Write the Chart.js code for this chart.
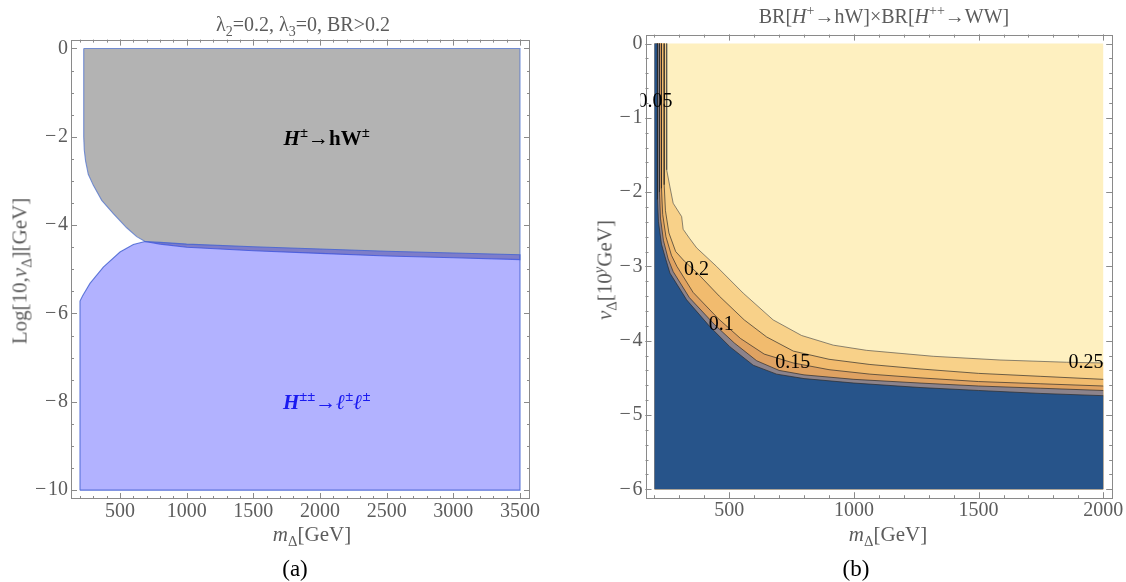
<!DOCTYPE html>
<html>
<head>
<meta charset="utf-8">
<script src="https://cdn.jsdelivr.net/npm/chart.js@4.4.1/dist/chart.umd.min.js"></script>
<style>
  body { margin: 0; background: #fff; font-family: 'Liberation Serif', 'DejaVu Serif', serif; }
  #page { position: relative; width: 1126px; height: 582px; overflow: hidden; }
  canvas { position: absolute; top: 0; }
  .lbl { position: absolute; white-space: nowrap; color: #5c5c5c; font-size: 21px; line-height: 1; transform: translate(-50%, -50%); }
  .ttl { font-size: 20px; }
  .rot { transform: translate(-50%, -50%) rotate(-90deg); }
  .cap { color: #000; font-size: 23px; }
  .inplot { font-size: 21px; font-weight: bold; }
  sub, sup { font-size: 70%; line-height: 0; }
</style>
</head>
<body>
<div id="page">
  <canvas id="chartA" width="563" height="582" style="left:0"></canvas>
  <canvas id="chartB" width="563" height="582" style="left:563px"></canvas>

  <div class="lbl ttl" style="left:303px;top:24px">λ<sub>2</sub>=0.2, λ<sub>3</sub>=0, BR&gt;0.2</div>
  <div class="lbl ttl" style="left:884px;top:16px">BR[<i>H</i><sup>+</sup>→hW]×BR[<i>H</i><sup>++</sup>→WW]</div>
  <div class="lbl" style="left:312px;top:534px"><i>m</i><sub>Δ</sub>[GeV]</div>
  <div class="lbl" style="left:888px;top:534px"><i>m</i><sub>Δ</sub>[GeV]</div>
  <div class="lbl rot" style="left:20px;top:271px">Log[10,<i>v</i><sub>Δ</sub>][GeV]</div>
  <div class="lbl rot" style="left:605px;top:270px"><i>v</i><sub>Δ</sub>[10<sup><i>y</i></sup>GeV]</div>
  <div class="lbl cap" style="left:295px;top:568px">(a)</div>
  <div class="lbl cap" style="left:856px;top:568px">(b)</div>
  <div id="lblHW" class="lbl inplot" style="color:#000"><i>H</i><sup>±</sup>→hW<sup>±</sup></div>
  <div id="lblLL" class="lbl inplot" style="color:#1a1af0"><i>H</i><sup>±±</sup>→<i>ℓ</i><sup>±</sup><i>ℓ</i><sup>±</sup></div>
</div>

<script>
// ---------- (a) region plot ----------
const massTicksA = [500, 1000, 1500, 2000, 2500, 3000, 3500];
const vevTicksA = [-10, -8, -6, -4, -2, 0];

// H± -> hW± region (gray): left edge, then lower edge
const hwEdgeX = [228, 228, 232, 242, 262, 300, 363, 450, 550, 625, 688, 800, 1000, 1500, 2000, 2500, 3000, 3500];
const hwEdgeY = [0, -2.0, -2.3, -2.55, -2.85, -3.1, -3.44, -3.74, -4.06, -4.26, -4.37, -4.43, -4.50, -4.58, -4.64, -4.70, -4.74, -4.78];

// H±± -> l±l± region (blue): left edge, then upper edge
const llEdgeX = [200, 200, 220, 275, 375, 500, 600, 688, 800, 1000, 1500, 2000, 2500, 3000, 3500];
const llEdgeY = [-10, -5.72, -5.60, -5.32, -4.95, -4.61, -4.44, -4.37, -4.39, -4.43, -4.49, -4.54, -4.59, -4.63, -4.67];

const regionLabelX = [2050, 2050];
const regionLabelY = [-2.02, -8.0];

// ---------- (b) contour plot ----------
const massTicksB = [500, 1000, 1500, 2000];
const vevTicksB = [-6, -5, -4, -3, -2, -1, 0];

const c005X = [212, 212, 216, 228, 245, 262, 329, 422, 502, 596, 690, 800, 1000, 1265, 1500, 1750, 2000];
const c005Y = [0, -2.1, -2.4, -2.7, -2.9, -3.09, -3.45, -3.81, -4.08, -4.33, -4.45, -4.51, -4.57, -4.63, -4.67, -4.71, -4.74];
const c010X = [220, 220, 224, 236, 255, 275, 340, 440, 520, 610, 700, 800, 1000, 1265, 1500, 1750, 2000];
const c010Y = [0, -2.0, -2.35, -2.65, -2.9, -3.07, -3.42, -3.78, -4.03, -4.27, -4.40, -4.46, -4.52, -4.57, -4.61, -4.64, -4.67];
const c015X = [228, 228, 233, 246, 268, 290, 355, 455, 545, 640, 757, 900, 1064, 1265, 1500, 1750, 2000];
const c015Y = [0, -1.95, -2.3, -2.6, -2.85, -3.0, -3.35, -3.70, -3.97, -4.18, -4.30, -4.39, -4.45, -4.50, -4.55, -4.58, -4.61];
const c020X = [239, 239, 244, 258, 285, 320, 369, 460, 560, 650, 757, 900, 1064, 1265, 1500, 1750, 2000];
const c020Y = [0, -1.9, -2.25, -2.55, -2.80, -2.93, -3.08, -3.40, -3.72, -3.95, -4.14, -4.25, -4.32, -4.38, -4.44, -4.48, -4.52];
const c025X = [249, 249, 262, 275, 309, 315, 340, 369, 449, 556, 676, 790, 917, 1051, 1318, 1586, 1853, 2000];
const c025Y = [0, -1.7, -1.93, -2.15, -2.33, -2.5, -2.62, -2.75, -3.0, -3.36, -3.72, -3.93, -4.06, -4.13, -4.21, -4.26, -4.29, -4.30];

const contourLabelText = ['0.05', '0.2', '0.1', '0.15', '0.25'];
const contourLabelX = [202, 369, 468, 755, 1931];
const contourLabelY = [-0.78, -3.04, -3.79, -4.30, -4.30];

// ---------- helpers ----------
Chart.defaults.font.family = 'Liberation Serif';
const tickFont = { family: 'Liberation Serif', size: 20 };
const tickColor = '#5c5c5c';

function pts(xs, ys) { return xs.map((x, i) => ({ x: x, y: ys[i] })); }
function fmtTick(v) { return v < 0 ? '\u2212\u200A' + Math.abs(v) : String(v); }

function axisX(min, max, vals, height) {
  return {
    type: 'linear', min: min, max: max,
    grid: { display: false, drawTicks: false }, border: { display: false },
    ticks: { font: tickFont, color: tickColor, padding: 1, maxRotation: 0, autoSkip: false, callback: fmtTick },
    afterBuildTicks: s => { s.ticks = vals.map(v => ({ value: v })); },
    afterFit: s => { s.height = height; s.paddingLeft = 0; s.paddingRight = 0; }
  };
}
function axisY(min, max, vals, width) {
  return {
    type: 'linear', min: min, max: max,
    grid: { display: false, drawTicks: false }, border: { display: false },
    ticks: { font: tickFont, color: tickColor, padding: 3, autoSkip: false, callback: fmtTick },
    afterBuildTicks: s => { s.ticks = vals.map(v => ({ value: v })); },
    afterFit: s => { s.width = width; s.paddingTop = 0; s.paddingBottom = 0; }
  };
}

function stepsBetween(from, to, step) {
  const out = [];
  for (let v = from; v <= to + 1e-9; v += step) out.push(Math.round(v * 1000) / 1000);
  return out;
}

// Mathematica-style frame with inward ticks on all four sides
const frameTicks = {
  id: 'frameTicks',
  afterDatasetsDraw(chart, args, opts) {
    const { ctx, chartArea: a, scales: { x, y } } = chart;
    ctx.save();
    ctx.strokeStyle = '#8a8a8a';
    ctx.lineWidth = 1;
    ctx.strokeRect(Math.round(a.left) + 0.5, Math.round(a.top) + 0.5,
                   Math.round(a.right - a.left) - 1, Math.round(a.bottom - a.top) - 1);
    ctx.beginPath();
    const hx = (v, len) => {
      const px = Math.round(x.getPixelForValue(v)) + 0.5;
      ctx.moveTo(px, a.bottom); ctx.lineTo(px, a.bottom - len);
      ctx.moveTo(px, a.top); ctx.lineTo(px, a.top + len);
    };
    const hy = (v, len) => {
      const py = Math.round(y.getPixelForValue(v)) + 0.5;
      ctx.moveTo(a.left, py); ctx.lineTo(a.left + len, py);
      ctx.moveTo(a.right, py); ctx.lineTo(a.right - len, py);
    };
    opts.minorX.forEach(v => hx(v, 3));
    opts.minorY.forEach(v => hy(v, 3));
    opts.majorX.forEach(v => hx(v, 6));
    opts.majorY.forEach(v => hy(v, 6));
    ctx.stroke();
    ctx.restore();
  }
};

const contourLabels = {
  id: 'contourLabels',
  afterDatasetsDraw(chart, args, opts) {
    if (!opts.text) return;
    const { ctx, chartArea: a, scales: { x, y } } = chart;
    ctx.save();
    ctx.beginPath();
    ctx.rect(a.left - 5, a.top, a.right - a.left + 5, a.bottom - a.top);
    ctx.clip();
    ctx.font = '20px "Liberation Serif"';
    ctx.fillStyle = '#000';
    ctx.textAlign = 'center';
    ctx.textBaseline = 'middle';
    opts.text.forEach((t, i) => ctx.fillText(t, x.getPixelForValue(opts.xs[i]), y.getPixelForValue(opts.ys[i])));
    ctx.restore();
  }
};

function polygon(data, fillColor, lineColor, lineWidth) {
  return {
    data: data, showLine: true, fill: fillColor ? 'shape' : false,
    backgroundColor: fillColor || 'transparent',
    borderColor: lineColor || 'transparent', borderWidth: lineWidth || 0,
    pointRadius: 0, pointHoverRadius: 0, tension: 0
  };
}
function withOrder(list) { return list.map((d, i) => Object.assign(d, { order: list.length - i })); }

function baseOptions(xAxis, yAxis, pad, extra) {
  return {
    responsive: false, animation: false, events: [],
    layout: { padding: pad },
    plugins: Object.assign({ legend: { display: false }, tooltip: { enabled: false } }, extra),
    scales: { x: xAxis, y: yAxis }
  };
}

// ---------- chart (a) ----------
const grayPoly = pts(hwEdgeX, hwEdgeY).concat([{ x: 3500, y: 0 }, { x: hwEdgeX[0], y: hwEdgeY[0] }]);
const bluePoly = pts(llEdgeX, llEdgeY).concat([{ x: 3500, y: -10 }, { x: llEdgeX[0], y: llEdgeY[0] }]);

const chartA = new Chart(document.getElementById('chartA'), {
  type: 'scatter',
  data: {
    datasets: withOrder([
      polygon(grayPoly, '#b3b3b3', 'rgba(80,115,205,0.75)', 1.1),
      polygon(bluePoly, 'rgba(0,0,255,0.3)', 'rgba(70,100,210,0.85)', 1.1)
    ])
  },
  options: baseOptions(
    axisX(132.5, 3575, massTicksA, 83),
    axisY(-10.2, 0.2, vevTicksA, 71),
    { top: 39.6, right: 33, left: 0, bottom: 0 },
    { frameTicks: {
        majorX: massTicksA, minorX: stepsBetween(200, 3500, 100),
        majorY: vevTicksA, minorY: stepsBetween(-10, 0, 0.5) } }
  ),
  plugins: [frameTicks]
});

// ---------- chart (b) ----------
const bandColors = ['#fef0c0', '#f8d189', '#f1bb6e', '#dfa262', '#8c838b', '#27548a'];
const levelsX = [c025X, c020X, c015X, c010X, c005X];
const levelsY = [c025Y, c020Y, c015Y, c010Y, c005Y];

const bDatasets = [polygon([{ x: 200, y: 0 }, { x: 2000, y: 0 }, { x: 2000, y: -6 }, { x: 200, y: -6 }, { x: 200, y: 0 }], bandColors[0])];
levelsX.forEach((xs, i) => {
  const poly = [{ x: 200, y: 0 }].concat(pts(xs, levelsY[i]), [{ x: 2000, y: -6 }, { x: 200, y: -6 }, { x: 200, y: 0 }]);
  bDatasets.push(polygon(poly, bandColors[i + 1]));
});
levelsX.forEach((xs, i) => {
  bDatasets.push(polygon(pts(xs, levelsY[i]), null, i === 0 ? 'rgba(70,70,70,0.7)' : 'rgba(40,40,40,0.75)', 0.9));
});

const chartB = new Chart(document.getElementById('chartB'), {
  type: 'scatter',
  data: { datasets: withOrder(bDatasets) },
  options: baseOptions(
    axisX(164, 2036, massTicksB, 83.8),
    axisY(-6.12, 0.12, vevTicksB, 82.5),
    { top: 34.6, right: 13.8, left: 0, bottom: 0 },
    { frameTicks: {
        majorX: massTicksB, minorX: stepsBetween(200, 2000, 100),
        majorY: vevTicksB, minorY: stepsBetween(-6, 0, 0.2) },
      contourLabels: { text: contourLabelText, xs: contourLabelX, ys: contourLabelY } }
  ),
  plugins: [frameTicks, contourLabels]
});

// place the region names of (a) through its scales
['lblHW', 'lblLL'].forEach((id, i) => {
  const el = document.getElementById(id);
  el.style.left = chartA.scales.x.getPixelForValue(regionLabelX[i]) + 'px';
  el.style.top = chartA.scales.y.getPixelForValue(regionLabelY[i]) + 'px';
});
</script>
</body>
</html>
